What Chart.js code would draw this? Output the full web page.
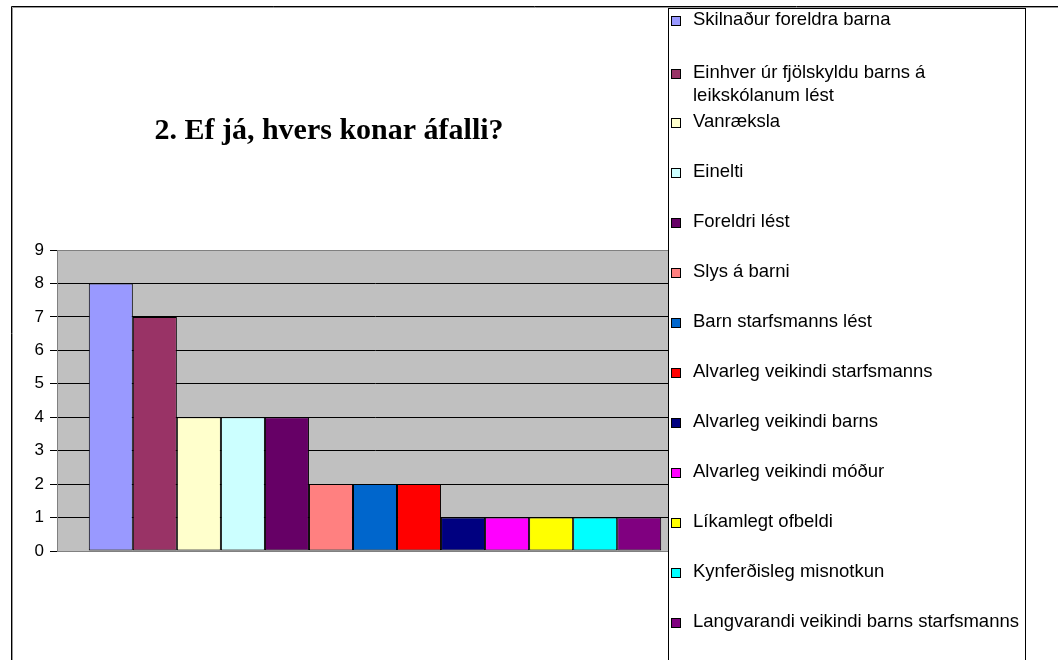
<!DOCTYPE html>
<html lang="is">
<head>
    <meta charset="UTF-8">
    <title>2. Ef já, hvers konar áfalli?</title>
    <script src="https://cdn.jsdelivr.net/npm/chart.js"></script>
    <style>
        body {
            margin: 0;
            padding: 0;
            background: #fff;
        }
        canvas {
            display: block;
        }
    </style>
</head>
<body>
    <canvas id="chart" width="1058" height="660"></canvas>
    <script>
        const chartTitle = "2. Ef já, hvers konar áfalli?";
        const categories = [""];
        const seriesNames = [
            "Skilnaður foreldra barna",
            "Einhver úr fjölskyldu barns á leikskólanum lést",
            "Vanræksla",
            "Einelti",
            "Foreldri lést",
            "Slys á barni",
            "Barn starfsmanns lést",
            "Alvarleg veikindi starfsmanns",
            "Alvarleg veikindi barns",
            "Alvarleg veikindi móður",
            "Líkamlegt ofbeldi",
            "Kynferðisleg misnotkun",
            "Langvarandi veikindi barns starfsmanns"
        ];
        const seriesValues = [8, 7, 4, 4, 4, 2, 2, 2, 1, 1, 1, 1, 1];
        const seriesColors = [
            "#9999FF", "#993366", "#FFFFCC", "#CCFFFF", "#660066",
            "#FF8080", "#0066CC", "#FF0000", "#000080", "#FF00FF",
            "#FFFF00", "#00FFFF", "#800080"
        ];
        const yTicks = [0, 1, 2, 3, 4, 5, 6, 7, 8, 9];

        // legend row centre (the wrapped second entry takes two lines)
        function legendRowY(i) {
            if (i === 0) return 20;
            if (i === 1) return 73;
            return 122 + 50 * (i - 2);
        }

        // grey plot background, plot frame, title, outer frame and legend box
        const decorations = {
            id: "decorations",
            beforeDraw(chart) {
                const ctx = chart.ctx;
                const a = chart.chartArea;
                ctx.save();
                ctx.fillStyle = "#C0C0C0";
                ctx.fillRect(a.left, a.top, a.right - a.left, a.bottom - a.top);
                ctx.restore();
            },
            beforeDatasetsDraw(chart) {
                const ctx = chart.ctx;
                const a = chart.chartArea;
                ctx.save();
                ctx.strokeStyle = "#808080";
                ctx.lineWidth = 1;
                ctx.strokeRect(a.left + 0.5, a.top + 0.5, a.right - a.left, a.bottom - a.top);
                ctx.restore();
            },
            afterDraw(chart) {
                const ctx = chart.ctx;
                ctx.save();

                // outer frame
                ctx.strokeStyle = "#000";
                ctx.lineWidth = 1;
                ctx.beginPath();
                ctx.moveTo(11.5, 660);
                ctx.lineTo(11.5, 6.5);
                ctx.lineTo(1058, 6.5);
                ctx.stroke();
                ctx.strokeStyle = "#999";
                ctx.beginPath();
                ctx.moveTo(12.5, 660);
                ctx.lineTo(12.5, 7.5);
                ctx.lineTo(1058, 7.5);
                ctx.stroke();

                // title
                ctx.fillStyle = "#000";
                ctx.font = "bold 30px 'Liberation Serif', 'Times New Roman', serif";
                ctx.textAlign = "center";
                ctx.textBaseline = "alphabetic";
                ctx.fillText(chartTitle, 329, 139);

                // legend box
                ctx.fillStyle = "#fff";
                ctx.fillRect(668, 8, 357, 660);
                ctx.strokeStyle = "#000";
                ctx.strokeRect(668.5, 8.5, 357, 660);

                ctx.font = "18.5px 'Liberation Sans', Arial, sans-serif";
                ctx.textAlign = "left";
                ctx.textBaseline = "middle";
                chart.data.datasets.forEach((ds, i) => {
                    const cy = legendRowY(i);
                    ctx.fillStyle = ds.backgroundColor;
                    ctx.fillRect(671, cy - 4, 10, 10);
                    ctx.strokeStyle = "#000";
                    ctx.strokeRect(671.5, cy - 3.5, 9, 9);
                    ctx.fillStyle = "#000";
                    // wrap long labels
                    const words = ds.label.split(" ");
                    let line = "";
                    let y = cy;
                    words.forEach(w => {
                        const test = line ? line + " " + w : w;
                        if (ctx.measureText(test).width > 335 && line) {
                            ctx.fillText(line, 693, y);
                            line = w;
                            y += 23;
                        } else {
                            line = test;
                        }
                    });
                    ctx.fillText(line, 693, y);
                });

                ctx.restore();
            }
        };

        const datasets = seriesNames.map((name, i) => ({
            label: name,
            data: [seriesValues[i]],
            backgroundColor: seriesColors[i],
            borderColor: "#000",
            borderWidth: 1,
            borderSkipped: false,
            categoryPercentage: 0.9,
            barPercentage: 1
        }));

        new Chart(document.getElementById("chart"), {
            type: "bar",
            data: {
                labels: categories,
                datasets: datasets
            },
            options: {
                responsive: false,
                animation: false,
                devicePixelRatio: 1,
                layout: {
                    padding: { left: 0, top: 250, right: 365, bottom: 109 }
                },
                plugins: {
                    legend: { display: false },
                    title: { display: false },
                    tooltip: { enabled: false }
                },
                scales: {
                    x: {
                        display: false
                    },
                    y: {
                        min: yTicks[0],
                        max: yTicks[yTicks.length - 1],
                        afterFit(scale) {
                            scale.width = 57;
                        },
                        afterBuildTicks(scale) {
                            scale.ticks = yTicks.map(v => ({ value: v }));
                        },
                        ticks: {
                            color: "#000",
                            padding: 6,
                            font: { family: "'Liberation Sans', Arial, sans-serif", size: 17 }
                        },
                        grid: {
                            color: c => (c.tick && c.tick.value === 9 ? "#808080" : "#000"),
                            tickColor: "#000",
                            tickLength: 7,
                            lineWidth: 1
                        },
                        border: {
                            display: true,
                            color: "#000",
                            width: 1
                        }
                    }
                }
            },
            plugins: [decorations]
        });
    </script>
</body>
</html>
